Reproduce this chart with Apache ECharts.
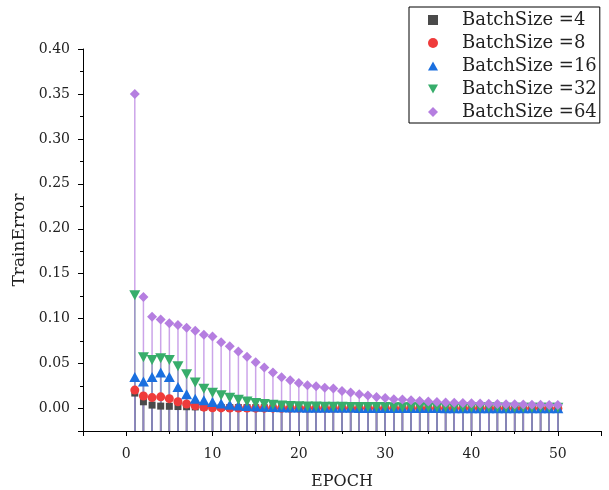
<!DOCTYPE html>
<html>
<head>
<meta charset="utf-8">
<style>
  html, body { margin: 0; padding: 0; background: #fff; }
  #chart { width: 609px; height: 490px; }
</style>
<script src="https://cdn.jsdelivr.net/npm/echarts@6/dist/echarts.min.js"></script>
</head>
<body>
<div id="chart"></div>
<script>
// Training error per epoch for several batch sizes
const epochs = [];
for (let e = 1; e <= 50; e++) epochs.push(e);

const batchLabels = ['BatchSize =4', 'BatchSize =8', 'BatchSize =16', 'BatchSize =32', 'BatchSize =64'];

const err4 = [0.0172, 0.0075, 0.0038, 0.0027, 0.0025, 0.0022, 0.0020, 0.0018, 0.0016, 0.0014,
  0.0012, 0.0011, 0.0010, 0.0010, 0.0009, 0.0009, 0.0008, 0.0008, 0.0007, 0.0007,
  0.0007, 0.0006, 0.0006, 0.0006, 0.0005, 0.0005, 0.0005, 0.0005, 0.0004, 0.0004,
  0.0004, 0.0004, 0.0004, 0.0003, 0.0003, 0.0003, 0.0003, 0.0003, 0.0003, 0.0003,
  0.0002, 0.0002, 0.0002, 0.0002, 0.0002, 0.0002, 0.0002, 0.0002, 0.0002, 0.0002];

const err8 = [0.0205, 0.0140, 0.0122, 0.0130, 0.0110, 0.0075, 0.0050, 0.0030, 0.0015, 0.0009,
  0.0007, 0.0006, 0.0005, 0.0005, 0.0004, 0.0004, 0.0004, 0.0003, 0.0003, 0.0003,
  0.0003, 0.0003, 0.0002, 0.0002, 0.0002, 0.0002, 0.0002, 0.0002, 0.0002, 0.0002,
  0.0002, 0.0001, 0.0001, 0.0001, 0.0001, 0.0001, 0.0001, 0.0001, 0.0001, 0.0001,
  0.0001, 0.0001, 0.0001, 0.0001, 0.0001, 0.0001, 0.0001, 0.0001, 0.0001, 0.0001];

const err16 = [0.0350, 0.0300, 0.0350, 0.0400, 0.0350, 0.0240, 0.0160, 0.0110, 0.0092, 0.0074,
  0.0056, 0.0042, 0.0034, 0.0028, 0.0023, 0.0019, 0.0016, 0.0014, 0.0012, 0.0011,
  0.0010, 0.0010, 0.0009, 0.0009, 0.0008, 0.0008, 0.0007, 0.0007, 0.0007, 0.0006,
  0.0006, 0.0006, 0.0005, 0.0005, 0.0005, 0.0005, 0.0004, 0.0004, 0.0004, 0.0004,
  0.0004, 0.0003, 0.0003, 0.0003, 0.0003, 0.0003, 0.0003, 0.0002, 0.0002, 0.0002];

const err32 = [0.1260, 0.0570, 0.0540, 0.0560, 0.0540, 0.0470, 0.0380, 0.0290, 0.0220, 0.0175,
  0.0148, 0.0120, 0.0098, 0.0078, 0.0062, 0.0050, 0.0042, 0.0034, 0.0028, 0.0025,
  0.0023, 0.0022, 0.0021, 0.0020, 0.0019, 0.0018, 0.0018, 0.0017, 0.0016, 0.0016,
  0.0015, 0.0015, 0.0014, 0.0014, 0.0013, 0.0013, 0.0013, 0.0012, 0.0012, 0.0012,
  0.0011, 0.0011, 0.0011, 0.0010, 0.0010, 0.0010, 0.0010, 0.0009, 0.0009, 0.0009];

const err64 = [0.3500, 0.1240, 0.1020, 0.0990, 0.0950, 0.0930, 0.0900, 0.0865, 0.0820, 0.0800,
  0.0737, 0.0694, 0.0635, 0.0575, 0.0516, 0.0457, 0.0401, 0.0349, 0.0315, 0.0285,
  0.0260, 0.0248, 0.0232, 0.0223, 0.0196, 0.0178, 0.0160, 0.0145, 0.0129, 0.0118,
  0.0104, 0.0100, 0.0092, 0.0085, 0.0078, 0.0072, 0.0068, 0.0064, 0.0061, 0.0058,
  0.0055, 0.0053, 0.0051, 0.0049, 0.0047, 0.0045, 0.0043, 0.0042, 0.0040, 0.0039];

const seriesValues = [err4, err8, err16, err32, err64];
const colors = ['#4a4a4a', '#ef3b3b', '#1a6fdf', '#37ad6b', '#b57ee0'];
const symbols = ['rect', 'circle', 'triangle', 'triangle', 'diamond'];
const symbolRotates = [0, 0, 0, 180, 0];
const symbolSizes = [7, 9, [11, 10], [11, 10], 10];
// legend glyphs (the down-pointing triangle needs its own path)
const legendIcons = [
  'path://M1,1 L9,1 L9,9 L1,9 Z',
  'circle',
  'path://M5,0 L10,9 L0,9 Z',
  'path://M0,0 L10,0 L5,9 Z',
  'diamond'
];

const FONT = 'DejaVu Serif';

const series = [];
seriesValues.forEach((vals, i) => {
  const pts = epochs.map((e, k) => [e, vals[k]]);
  // stems: vertical line from each point down to the bottom of the plot area
  series.push({
    name: batchLabels[i] + ' stem',
    type: 'custom',
    data: pts,
    silent: true,
    renderItem: function (params, api) {
      const p = api.coord([api.value(0), api.value(1)]);
      const cs = params.coordSys;
      return {
        type: 'line',
        shape: { x1: p[0], y1: p[1], x2: p[0], y2: cs.y + cs.height },
        style: { stroke: colors[i], lineWidth: 1.5, opacity: 0.7 }
      };
    }
  });
  series.push({
    name: batchLabels[i],
    type: 'scatter',
    data: pts,
    symbol: symbols[i],
    symbolRotate: symbolRotates[i],
    symbolSize: symbolSizes[i],
    itemStyle: { color: colors[i], opacity: 1 },
    silent: true
  });
});

const chart = echarts.init(document.getElementById('chart'), null, { renderer: 'canvas' });
chart.setOption({
  animation: false,
  backgroundColor: '#fff',
  grid: { left: 83, right: 8, top: 49, bottom: 59, containLabel: false, outerBoundsMode: 'none' },
  legend: {
    data: batchLabels.map((name, i) => ({ name: name, icon: legendIcons[i] })),
    orient: 'vertical',
    left: 409,
    top: 7,
    padding: [4, 3, 2, 19],
    itemWidth: 10,
    itemHeight: 10,
    itemGap: 5,
    borderColor: '#000',
    borderWidth: 1,
    borderRadius: 0,
    selectedMode: false,
    textStyle: { fontFamily: FONT, fontSize: 18, color: '#222', lineHeight: 18, padding: [0, 0, 0, 19] }
  },
  xAxis: {
    type: 'value',
    min: -5,
    max: 55,
    splitNumber: 6,
    name: 'EPOCH',
    nameLocation: 'middle',
    nameGap: 43,
    nameTextStyle: { fontFamily: FONT, fontSize: 16, color: '#222' },
    axisLine: { onZero: false, lineStyle: { color: '#000', width: 1 } },
    axisTick: { show: true, inside: false, length: 5, lineStyle: { color: '#000' } },
    minorTick: { show: true, splitNumber: 2, length: 3, lineStyle: { color: '#000' } },
    splitLine: { show: false },
    minorSplitLine: { show: false },
    axisLabel: {
      fontFamily: FONT, fontSize: 14, color: '#222', margin: 16,
      formatter: v => (Math.abs(v % 10) < 1e-9 ? String(Math.round(v)) : '')
    }
  },
  yAxis: {
    type: 'value',
    min: -0.025,
    max: 0.40,
    splitNumber: 8,
    name: 'TrainError',
    nameLocation: 'middle',
    nameGap: 46,
    nameTextStyle: { fontFamily: FONT, fontSize: 17, color: '#222' },
    axisLine: { onZero: false, lineStyle: { color: '#000', width: 1 } },
    axisTick: { show: true, inside: false, length: 5, lineStyle: { color: '#000' } },
    minorTick: { show: true, splitNumber: 2, length: 3, lineStyle: { color: '#000' } },
    splitLine: { show: false },
    minorSplitLine: { show: false },
    axisLabel: {
      fontFamily: FONT, fontSize: 14, color: '#222', margin: 13,
      formatter: v => {
        const m = Math.round(v * 1000);
        return (m >= 0 && m % 50 === 0) ? (m / 1000).toFixed(2) : '';
      }
    }
  },
  series: series
});
</script>
</body>
</html>
